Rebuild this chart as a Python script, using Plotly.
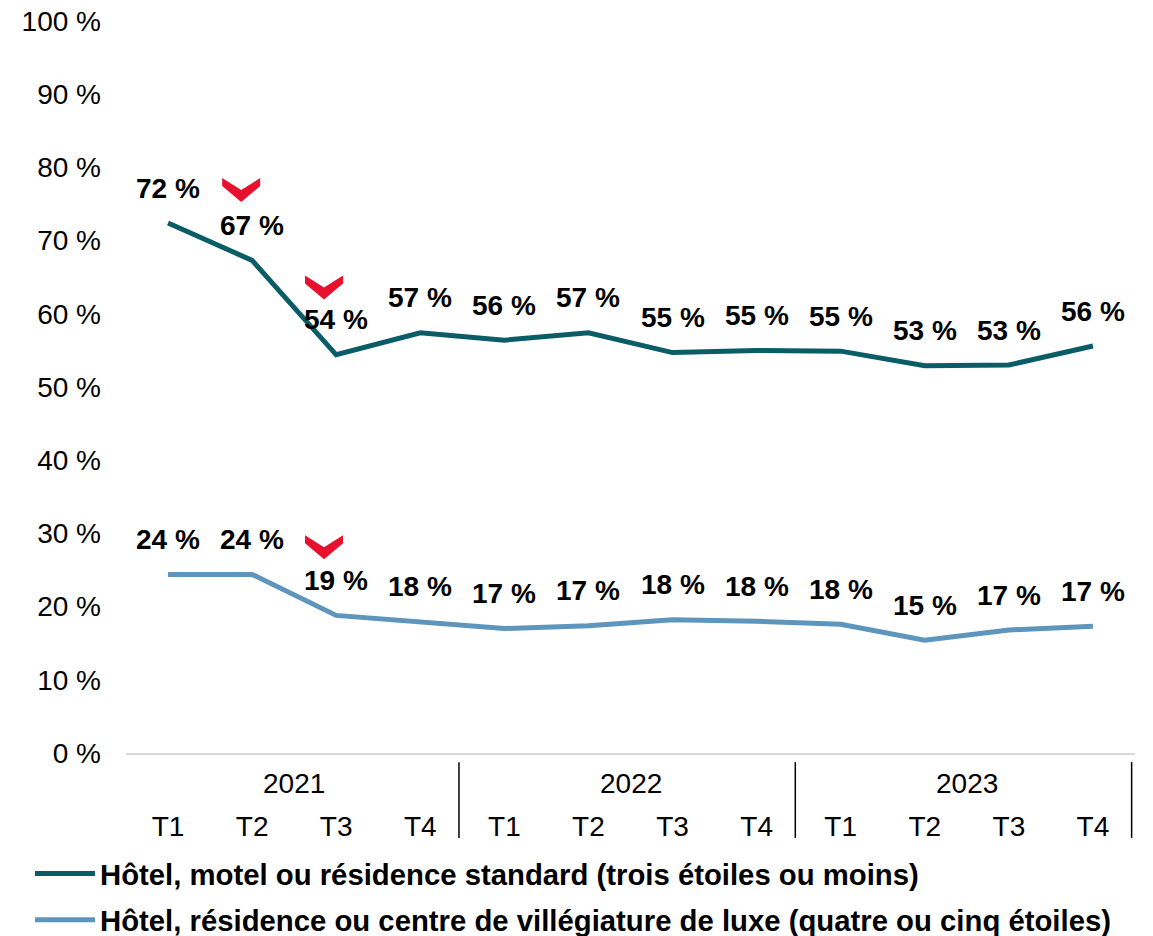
import plotly.graph_objects as go

# Trimester categories and year groups
quarters = ["T1", "T2", "T3", "T4"] * 3
years = ["2021", "2022", "2023"]

# Share of stays by type of accommodation (%)
standard_name = "Hôtel, motel ou résidence standard (trois étoiles ou moins)"
standard = [72.4, 67.3, 54.4, 57.4, 56.4, 57.4, 54.7, 55.0, 54.9, 52.9, 53.0, 55.6]

luxe_name = "Hôtel, résidence ou centre de villégiature de luxe (quatre ou cinq étoiles)"
luxe = [24.4, 24.4, 18.8, 17.9, 17.0, 17.4, 18.2, 18.0, 17.6, 15.4, 16.8, 17.3]

# Significant decrease markers: (category position, value)
decrease_x = [0.87, 1.855, 1.855]
decrease_y = [76.9, 63.6, 28.1]

y_ticks = list(range(0, 101, 10))

COL_STANDARD = "#0a5d66"
COL_LUXE = "#5e95bd"
COL_RED = "#e8112d"
FONT = "Liberation Sans, Arial, sans-serif"

x_idx = list(range(len(quarters)))

fig = go.Figure()
fig.add_trace(go.Scatter(x=x_idx, y=standard, mode="lines", name=standard_name,
                         legendgroup="standard",
                         line=dict(color=COL_STANDARD, width=5)))
fig.add_trace(go.Scatter(x=x_idx, y=luxe, mode="lines", name=luxe_name,
                         legendgroup="luxe",
                         line=dict(color=COL_LUXE, width=5)))

# Value labels above each point
for series in (standard, luxe):
    for i, v in enumerate(series):
        fig.add_annotation(x=i, y=v, text=f"<b>{round(v)} %</b>", showarrow=False,
                           yshift=35, font=dict(family=FONT, size=28, color="black"),
                           xanchor="center", yanchor="middle")

# Red chevrons for significant decreases
chevron = "M-19,12 L0,0 L19,12 L19,4 L0,-12 L-19,4 Z"
for cx, cy in zip(decrease_x, decrease_y):
    fig.add_shape(type="path", xref="x", yref="y", xsizemode="pixel", ysizemode="pixel",
                  xanchor=cx, yanchor=cy, path=chevron,
                  fillcolor=COL_RED, line=dict(width=0))

# Year group labels and separators under the axis
for g, yr in enumerate(years):
    fig.add_annotation(x=g * 4 + 1.5, y=0, xref="x", yref="paper", text=yr,
                       showarrow=False, yshift=-30,
                       font=dict(family=FONT, size=28, color="black"),
                       xanchor="center", yanchor="middle")
    fig.add_shape(type="line", xref="x", yref="paper", x0=g * 4 + 3.46, x1=g * 4 + 3.46,
                  y0=-0.0125, y1=-0.116, line=dict(color="black", width=1.5))

fig.update_layout(
    width=1153, height=936,
    margin=dict(l=126, r=18, t=21, b=183, autoexpand=False),
    paper_bgcolor="white", plot_bgcolor="white",
    font=dict(family=FONT, size=28, color="black"),
    showlegend=True,
    legend=dict(xref="container", yref="container", x=0.026, y=0.094,
                xanchor="left", yanchor="top",
                font=dict(family=FONT, size=29.3, color="black", weight="bold"),
                itemwidth=60, tracegroupgap=5, bgcolor="rgba(0,0,0,0)"),
    xaxis=dict(range=[-0.5, 11.5], tickmode="array", tickvals=x_idx, ticktext=quarters,
               showgrid=False, zeroline=False, showline=True, linecolor="#d9d9d9",
               linewidth=2, ticks="", ticklabelstandoff=47,
               tickfont=dict(family=FONT, size=28, color="black")),
    yaxis=dict(range=[0, 100], tickmode="array", tickvals=y_ticks,
               ticktext=[f"{t} %" for t in y_ticks], showgrid=False, zeroline=False,
               showline=False, ticks="", ticklabelstandoff=24,
               tickfont=dict(family=FONT, size=28, color="black")),
)

fig.write_html("out.html")
